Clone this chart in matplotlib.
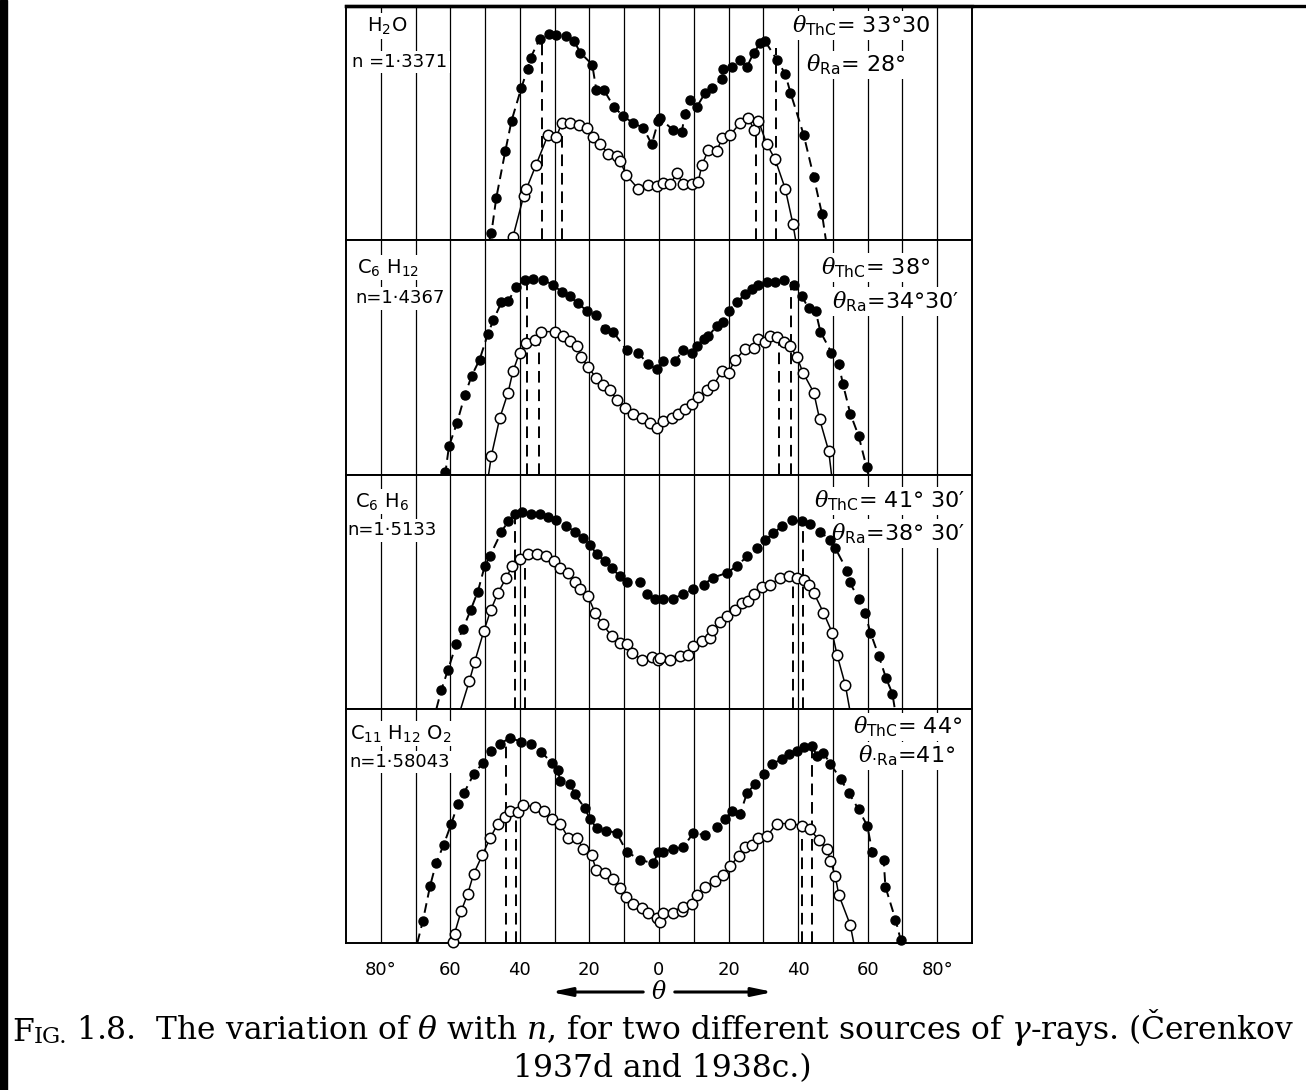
import matplotlib.pyplot as plt
import numpy as np
from matplotlib.patches import Rectangle
from matplotlib.lines import Line2D
from matplotlib.text import Annotation

plt.rcParams['font.family'] = ['DejaVu Sans']
plt.rcParams['mathtext.fontset'] = 'custom'
plt.rcParams['mathtext.rm'] = 'DejaVu Sans'
plt.rcParams['mathtext.sf'] = 'DejaVu Sans'
plt.rcParams['mathtext.it'] = 'DejaVu Serif:italic'

# ---- data: angle (deg), relative intensity (0..1 of panel) ----
# H2O
h2o_thc_x = [-48.2, -46.8, -44.2, -42.4, -39.6, -37.8, -36.9, -34.3, -31.6, -29.5, -26.6, -24.4, -22.6, -19.2,
             -18.0, -15.8, -13.0, -10.3, -7.4, -4.5, -2.1, -0.2, 0.3, 4.1, 6.5, 7.5, 8.9, 10.9, 13.3, 15.2,
             18.1, 18.5, 21.0, 23.3, 25.3, 27.2, 29.1, 30.5, 33.9, 36.3, 37.8, 41.6, 44.5, 46.9]
h2o_thc_y = [0.03, 0.18, 0.38, 0.51, 0.65, 0.73, 0.78, 0.86, 0.88, 0.876, 0.87, 0.85, 0.80, 0.75,
             0.64, 0.64, 0.57, 0.53, 0.50, 0.48, 0.41, 0.51, 0.52, 0.47, 0.46, 0.54, 0.60, 0.57, 0.63, 0.65,
             0.69, 0.73, 0.74, 0.77, 0.74, 0.80, 0.84, 0.85, 0.77, 0.71, 0.63, 0.45, 0.27, 0.11]
h2o_ra_x = [-42.0, -38.9, -38.1, -35.4, -31.9, -29.5, -28.0, -25.6, -23.0, -20.7, -18.9, -17.0, -14.6, -12.2,
            -11.2, -9.5, -6.0, -3.1, -0.7, 1.2, 3.2, 5.1, 7.0, 9.4, 11.3, 12.3, 14.2, 16.6, 18.1, 20.5,
            23.3, 25.7, 27.4, 28.6, 31.0, 33.4, 36.3, 38.5]
h2o_ra_y = [0.014, 0.19, 0.22, 0.32, 0.45, 0.44, 0.50, 0.50, 0.49, 0.48, 0.44, 0.41, 0.37, 0.36,
            0.34, 0.28, 0.22, 0.235, 0.23, 0.245, 0.24, 0.285, 0.24, 0.24, 0.25, 0.32, 0.385, 0.38, 0.435, 0.45,
            0.50, 0.52, 0.47, 0.51, 0.41, 0.345, 0.22, 0.07]

# C6H12
c6h12_thc_x = [-61.4, -60.4, -58.1, -55.8, -53.9, -51.6, -49.2, -47.6, -45.3, -43.4, -41.0, -38.6, -36.2, -33.3,
               -30.5, -28.0, -25.6, -23.3, -20.8, -18.0, -15.6, -13.2, -9.3, -6.0, -3.1, -0.7, 1.2, 4.6, 7.0,
               9.4, 10.9, 12.8, 14.2, 16.6, 18.5, 20.0, 22.4, 24.8, 26.7, 28.6, 31.0, 33.4, 35.8, 38.7, 41.1,
               43.0, 45.0, 46.4, 49.6, 51.7, 52.9, 55.0, 57.4, 59.7]
c6h12_thc_y = [0.01, 0.12, 0.22, 0.34, 0.42, 0.49, 0.60, 0.66, 0.735, 0.74, 0.80, 0.83, 0.835, 0.83,
               0.81, 0.78, 0.76, 0.73, 0.70, 0.68, 0.62, 0.61, 0.53, 0.52, 0.47, 0.45, 0.485, 0.485, 0.53,
               0.52, 0.55, 0.58, 0.59, 0.635, 0.65, 0.70, 0.735, 0.77, 0.79, 0.81, 0.82, 0.82, 0.83, 0.81, 0.76,
               0.71, 0.70, 0.61, 0.52, 0.47, 0.385, 0.26, 0.165, 0.03]
c6h12_ra_x = [-48.2, -45.8, -43.4, -42.0, -40.1, -38.1, -35.7, -33.8, -30.0, -27.6, -25.6, -23.7, -22.3, -20.4,
              -18.0, -16.1, -14.1, -12.2, -9.8, -7.4, -5.0, -2.6, -0.7, 1.2, 3.7, 5.6, 7.5, 9.4, 11.3, 13.7,
              15.6, 18.1, 20.0, 21.9, 24.8, 27.2, 28.6, 30.5, 32.0, 33.9, 35.8, 37.6, 39.7, 41.4, 44.5, 46.2, 48.8]
c6h12_ra_y = [0.08, 0.24, 0.35, 0.44, 0.52, 0.56, 0.575, 0.61, 0.61, 0.59, 0.57, 0.55, 0.50, 0.46,
              0.41, 0.38, 0.36, 0.32, 0.285, 0.26, 0.24, 0.22, 0.20, 0.23, 0.24, 0.26, 0.28, 0.30, 0.33, 0.36,
              0.38, 0.44, 0.435, 0.49, 0.535, 0.54, 0.58, 0.565, 0.59, 0.585, 0.565, 0.55, 0.50, 0.435, 0.35, 0.235, 0.10]

# C6H6
c6h6_thc_x = [-62.6, -60.7, -58.3, -56.4, -54.2, -52.1, -50.1, -48.7, -45.3, -43.4, -41.5, -39.3, -36.7, -34.3,
              -31.9, -29.5, -26.6, -24.2, -21.8, -19.9, -17.9, -15.6, -13.6, -11.2, -9.3, -5.5, -3.5, -1.2,
              1.2, 4.1, 7.0, 9.9, 12.8, 15.6, 19.5, 22.4, 25.3, 28.2, 30.5, 32.9, 35.4, 38.2, 41.1, 43.5,
              46.4, 49.3, 50.7, 54.1, 54.8, 57.4, 59.2, 60.8, 63.2, 65.3, 67.1]
c6h6_thc_y = [0.08, 0.165, 0.275, 0.34, 0.42, 0.50, 0.61, 0.65, 0.755, 0.80, 0.83, 0.84, 0.83, 0.83,
              0.82, 0.805, 0.78, 0.755, 0.73, 0.70, 0.66, 0.63, 0.60, 0.565, 0.54, 0.54, 0.49, 0.47,
              0.47, 0.47, 0.49, 0.51, 0.53, 0.56, 0.58, 0.61, 0.65, 0.685, 0.72, 0.75, 0.78, 0.805, 0.80, 0.79,
              0.755, 0.72, 0.685, 0.59, 0.54, 0.47, 0.41, 0.325, 0.225, 0.13, 0.065]
c6h6_ra_x = [-54.5, -53.0, -50.4, -48.4, -46.3, -43.9, -42.2, -40.1, -37.7, -35.0, -32.4, -30.3, -28.5, -26.1,
             -24.2, -22.6, -20.4, -18.4, -16.2, -13.6, -11.2, -9.1, -7.9, -5.0, -2.1, -0.2, 0.3, 3.2, 6.1,
             8.4, 9.9, 12.3, 14.7, 15.2, 17.6, 19.5, 21.9, 23.8, 25.7, 27.2, 29.6, 32.0, 34.9, 37.3, 39.7,
             41.6, 43.0, 44.5, 47.3, 49.8, 51.2, 53.6]
c6h6_ra_y = [0.12, 0.20, 0.33, 0.42, 0.495, 0.56, 0.61, 0.64, 0.66, 0.66, 0.65, 0.63, 0.60, 0.58,
             0.54, 0.51, 0.48, 0.41, 0.36, 0.31, 0.28, 0.275, 0.24, 0.21, 0.22, 0.21, 0.215, 0.21, 0.225,
             0.23, 0.27, 0.29, 0.30, 0.335, 0.37, 0.395, 0.42, 0.45, 0.46, 0.49, 0.52, 0.53, 0.56, 0.565, 0.56,
             0.55, 0.53, 0.495, 0.41, 0.325, 0.23, 0.10]

# C11H12O2
c11_thc_x = [-67.9, -65.8, -64.1, -61.9, -59.7, -57.8, -56.1, -53.3, -50.6, -48.2, -45.8, -42.9, -39.6, -36.7,
             -33.8, -30.9, -29.0, -28.5, -25.6, -24.2, -21.3, -19.9, -17.9, -15.1, -12.2, -9.3, -5.5, -1.6, -0.2,
             1.2, 4.1, 7.0, 9.9, 13.3, 16.6, 19.0, 21.0, 23.3, 25.3, 27.7, 30.1, 32.5, 35.4, 37.3, 39.7,
             41.6, 44.0, 45.4, 47.3, 49.3, 52.2, 54.6, 57.4, 59.9, 61.3, 64.6, 65.1, 68.0, 69.5]
c11_thc_y = [0.094, 0.245, 0.34, 0.42, 0.51, 0.595, 0.64, 0.72, 0.77, 0.82, 0.85, 0.875, 0.86, 0.85,
             0.815, 0.77, 0.74, 0.69, 0.68, 0.635, 0.575, 0.53, 0.49, 0.48, 0.47, 0.39, 0.355, 0.34, 0.39,
             0.39, 0.40, 0.41, 0.47, 0.46, 0.495, 0.53, 0.565, 0.55, 0.64, 0.68, 0.72, 0.765, 0.785, 0.805, 0.82,
             0.835, 0.84, 0.80, 0.81, 0.765, 0.70, 0.64, 0.57, 0.50, 0.39, 0.355, 0.24, 0.10, 0.013]
c11_ra_x = [-59.3, -58.8, -56.9, -55.0, -53.3, -50.8, -48.5, -46.3, -44.4, -42.9, -40.5, -39.1, -35.7, -33.1,
            -30.9, -28.5, -26.1, -23.5, -21.8, -19.4, -18.0, -15.6, -13.3, -11.2, -9.5, -7.4, -5.0, -3.1, -0.7,
            0.3, 1.2, 4.1, 6.5, 7.0, 9.4, 10.9, 13.3, 16.1, 18.5, 20.5, 22.9, 24.8, 26.7, 28.6, 31.0, 33.9,
            37.8, 41.1, 43.5, 45.9, 48.3, 49.3, 50.7, 51.7, 55.0]
c11_ra_y = [0.003, 0.04, 0.135, 0.21, 0.295, 0.375, 0.45, 0.51, 0.54, 0.565, 0.56, 0.59, 0.58, 0.565,
            0.53, 0.51, 0.45, 0.45, 0.40, 0.375, 0.31, 0.30, 0.275, 0.235, 0.195, 0.165, 0.15, 0.13, 0.105,
            0.09, 0.13, 0.13, 0.135, 0.155, 0.165, 0.205, 0.24, 0.265, 0.29, 0.33, 0.37, 0.41, 0.42, 0.45, 0.455,
            0.51, 0.51, 0.50, 0.485, 0.44, 0.40, 0.35, 0.285, 0.205, 0.077]

# where the drawn curves meet the base line (left, right)
thc_ends = [(-48.8, 48.0), (-62.0, 60.2), (-64.0, 67.8), (-69.5, 69.7)]
ra_ends = [(-42.3, 39.3), (-49.0, 49.6), (-57.0, 54.8), (-59.5, 56.0)]

# Cerenkov angles (deg) and the height where each dashed marker line starts (left, right)
theta_thc = [33.5, 38.0, 41.5, 44.0]
theta_ra = [28.0, 34.5, 38.5, 41.0]
thc_top = [(0.86, 0.82), (0.82, 0.82), (0.82, 0.80), (0.85, 0.82)]
ra_top = [(0.48, 0.46), (0.58, 0.59), (0.62, 0.55), (0.56, 0.51)]

formulas = [r'H$_2$O', r'C$_6$ H$_{12}$', r'C$_6$ H$_6$', r'C$_{11}$ H$_{12}$ O$_2$']
indices = ['n =1·3371', 'n=1·4367', 'n=1·5133', 'n=1·58043']
thc_labels = [r'$\theta_{\mathrm{ThC}}$= 33°30', r'$\theta_{\mathrm{ThC}}$= 38°',
              r'$\theta_{\mathrm{ThC}}$= 41° 30′', r'$\theta_{\mathrm{ThC}}$= 44°']
ra_labels = [r'$\theta_{\mathrm{Ra}}$= 28°', r'$\theta_{\mathrm{Ra}}$=34°30′',
             r'$\theta_{\mathrm{Ra}}$=38° 30′', r'$\theta_{\cdot\mathrm{Ra}}$=41°']

thc_xs = [h2o_thc_x, c6h12_thc_x, c6h6_thc_x, c11_thc_x]
thc_ys = [h2o_thc_y, c6h12_thc_y, c6h6_thc_y, c11_thc_y]
ra_xs = [h2o_ra_x, c6h12_ra_x, c6h6_ra_x, c11_ra_x]
ra_ys = [h2o_ra_y, c6h12_ra_y, c6h6_ra_y, c11_ra_y]

tick_pos = [-80, -60, -40, -20, 0, 20, 40, 60, 80]
tick_lab = ['80°', '60', '40', '20', '0', '20', '40', '60', '80°']

# label placement inside each panel (axes fraction)
form_pos = [(0.033, 0.96), (0.018, 0.93), (0.015, 0.93), (0.006, 0.94)]
n_pos = [(0.010, 0.80), (0.015, 0.79), (0.002, 0.80), (0.006, 0.81)]
thc_pos = [(0.933, 0.97), (0.933, 0.935), (0.99, 0.94), (0.985, 0.975)]
ra_pos = [(0.893, 0.80), (0.98, 0.79), (0.99, 0.80), (0.973, 0.85)]

W, H = 1306, 1090
fig = plt.figure(figsize=(W / 100, H / 100), dpi=100)
left, right, top, bottom = 346, 972, 6, 943
ph = (bottom - top) / 4

white_box = dict(facecolor='white', edgecolor='none', pad=1.5)

for i in range(4):
    ax = fig.add_axes([left / W, (H - top - (i + 1) * ph) / H, (right - left) / W, ph / H])
    ax.set_xlim(-90, 90)
    ax.set_ylim(0, 1)
    ax.set_yticks([])
    ax.set_xticks(tick_pos)
    ax.set_xticks(np.arange(-70, 90, 20), minor=True)
    ax.tick_params(axis='x', which='both', length=0)
    ax.grid(True, axis='x', which='both', color='black', lw=0.9)
    ax.set_axisbelow(True)
    for s in ax.spines.values():
        s.set_linewidth(1.4)
    if i == 0:
        ax.spines['top'].set_linewidth(2.4)
    if i < 3:
        ax.set_xticklabels([])
    else:
        ax.set_xticklabels(tick_lab, fontsize=13)
        ax.tick_params(axis='x', pad=13)

    # ThC source: filled dots on a dashed curve
    tx = [thc_ends[i][0]] + thc_xs[i] + [thc_ends[i][1]]
    ty = [0] + thc_ys[i] + [0]
    ax.plot(tx, ty, color='black', lw=1.4, ls=(0, (5, 3)), zorder=3, clip_on=False)
    ax.plot(thc_xs[i], thc_ys[i], 'o', color='black', ms=6.5, zorder=5, clip_on=False)

    # Ra source: open circles on a solid curve
    rx = [ra_ends[i][0]] + ra_xs[i] + [ra_ends[i][1]]
    ry = [0] + ra_ys[i] + [0]
    ax.plot(rx, ry, color='black', lw=1.1, zorder=3, clip_on=False)
    ax.plot(ra_xs[i], ra_ys[i], 'o', mfc='white', mec='black', mew=1.1, ms=7.5, zorder=6, clip_on=False)

    # dashed lines at the Cerenkov angles
    for sgn, k in ((-1, 0), (1, 1)):
        ax.plot([sgn * theta_thc[i]] * 2, [0, thc_top[i][k]], color='black', lw=1.4, ls=(0, (6, 3.5)), zorder=2.5)
        ax.plot([sgn * theta_ra[i]] * 2, [0, ra_top[i][k]], color='black', lw=1.4, ls=(0, (6, 3.5)), zorder=2.5)

    ax.text(*form_pos[i], formulas[i], transform=ax.transAxes, fontsize=14, va='top', ha='left',
            bbox=white_box, zorder=2)
    ax.text(*n_pos[i], indices[i], transform=ax.transAxes, fontsize=13, va='top', ha='left',
            bbox=white_box, zorder=2)
    ax.text(*thc_pos[i], thc_labels[i], transform=ax.transAxes, fontsize=16, va='top', ha='right',
            bbox=white_box, zorder=2)
    ax.text(*ra_pos[i], ra_labels[i], transform=ax.transAxes, fontsize=16, va='top', ha='right',
            bbox=white_box, zorder=2)

# theta arrow under the axis
yy = 1 - 992 / H
fig.text(659 / W, yy, r'$\theta$', fontsize=17, ha='center', va='center')
arrow = dict(arrowstyle='-|>,head_length=1.2,head_width=0.25', color='black', lw=2.2)
fig.add_artist(Annotation('', xy=(548 / W, yy), xytext=(646 / W, yy), xycoords='figure fraction',
                          textcoords='figure fraction', arrowprops=arrow))
fig.add_artist(Annotation('', xy=(776 / W, yy), xytext=(672 / W, yy), xycoords='figure fraction',
                          textcoords='figure fraction', arrowprops=arrow))

# scan edges
fig.add_artist(Rectangle((0, 0), 7 / W, 1, transform=fig.transFigure, color='black'))
fig.add_artist(Line2D([left / W, 1], [1 - top / H] * 2, color='black', lw=2.4, transform=fig.transFigure))

# caption
serif = 'DejaVu Serif'
t1 = fig.text(12 / W, 1 - 1041 / H, 'F', fontsize=22.6, family=serif, va='baseline')
t2 = Annotation('IG.', xy=(1, 0), xycoords=t1, va='bottom', fontsize=16.5, family=serif)
fig.add_artist(t2)
t3 = Annotation(r' 1.8.  The variation of $\theta$ with $n$, for two different sources of $\gamma$-rays. (Čerenkov',
                xy=(1, 0), xycoords=t2, va='bottom', fontsize=22.6, family=serif)
fig.add_artist(t3)
fig.text(662 / W, 1 - 1077 / H, '1937d and 1938c.)', fontsize=22.6, family=serif, ha='center', va='baseline')

fig.savefig('out.png', dpi=100, facecolor='white')
